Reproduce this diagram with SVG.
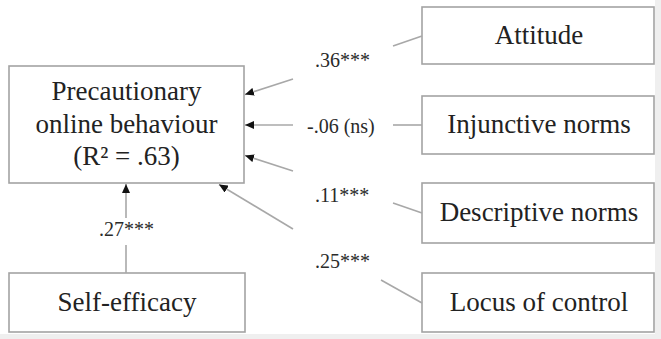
<svg xmlns="http://www.w3.org/2000/svg" width="661" height="339" viewBox="0 0 661 339">
<style>
.box{fill:#ffffff;stroke:#a3a3a3;stroke-width:1.6}
.t{font-family:'Liberation Serif','Times New Roman',serif;font-size:27px;fill:#222;text-anchor:middle}
.lbl{font-family:'Liberation Serif','Times New Roman',serif;font-size:20px;fill:#2a2a2a}
.ln{stroke:#a8a8a8;stroke-width:1.6;fill:none}
</style>
<defs>
<marker id="ah" markerUnits="userSpaceOnUse" markerWidth="10" markerHeight="8" refX="9" refY="4" orient="auto">
<path d="M0,0 L9,4 L0,8 Z" fill="#111"/>
</marker>
</defs>
<rect x="0" y="0" width="661" height="339" fill="#ffffff"/>
<rect x="655" y="0" width="6" height="339" fill="#efefef"/>
<rect x="0" y="334" width="661" height="5" fill="#efefef"/>

<g id="outcome">
<rect class="box" x="9" y="66" width="235" height="117"/>
<text class="t" x="126.5" y="100">Precautionary</text>
<text class="t" x="126.5" y="133">online behaviour</text>
<text class="t" x="126.5" y="165">(R² = .63)</text>
</g>

<g id="attitude">
<rect class="box" x="422" y="7" width="232" height="57"/>
<text class="t" x="539" y="44">Attitude</text>
</g>

<g id="injunctive">
<rect class="box" x="422" y="96" width="232" height="58"/>
<text class="t" x="539" y="133">Injunctive norms</text>
</g>

<g id="descriptive">
<rect class="box" x="422" y="183" width="232" height="60"/>
<text class="t" x="539" y="221">Descriptive norms</text>
</g>

<g id="locus">
<rect class="box" x="422" y="273" width="232" height="59"/>
<text class="t" x="539" y="311">Locus of control</text>
</g>

<g id="selfefficacy">
<rect class="box" x="9" y="273" width="236" height="59"/>
<text class="t" x="127" y="311">Self-efficacy</text>
</g>

<g id="connectors">
<line class="ln" x1="422" y1="36" x2="393" y2="46"/>
<line class="ln" x1="293" y1="79" x2="245" y2="94.5" marker-end="url(#ah)"/>
<text class="lbl" x="315" y="67">.36***</text>

<line class="ln" x1="422" y1="125" x2="393" y2="125"/>
<line class="ln" x1="293" y1="125" x2="245" y2="125" marker-end="url(#ah)"/>
<text class="lbl" x="307" y="133">-.06 (ns)</text>

<line class="ln" x1="422" y1="213" x2="393" y2="203"/>
<line class="ln" x1="293" y1="171" x2="245" y2="155.5" marker-end="url(#ah)"/>
<text class="lbl" x="315" y="202">.11***</text>

<line class="ln" x1="422" y1="303" x2="381" y2="280"/>
<line class="ln" x1="293" y1="229" x2="219" y2="184.5" marker-end="url(#ah)"/>
<text class="lbl" x="315" y="268">.25***</text>

<line class="ln" x1="126" y1="273" x2="126" y2="245"/>
<line class="ln" x1="126" y1="218" x2="126" y2="184" marker-end="url(#ah)"/>
<text class="lbl" x="126.5" y="236" text-anchor="middle">.27***</text>
</g>
</svg>
